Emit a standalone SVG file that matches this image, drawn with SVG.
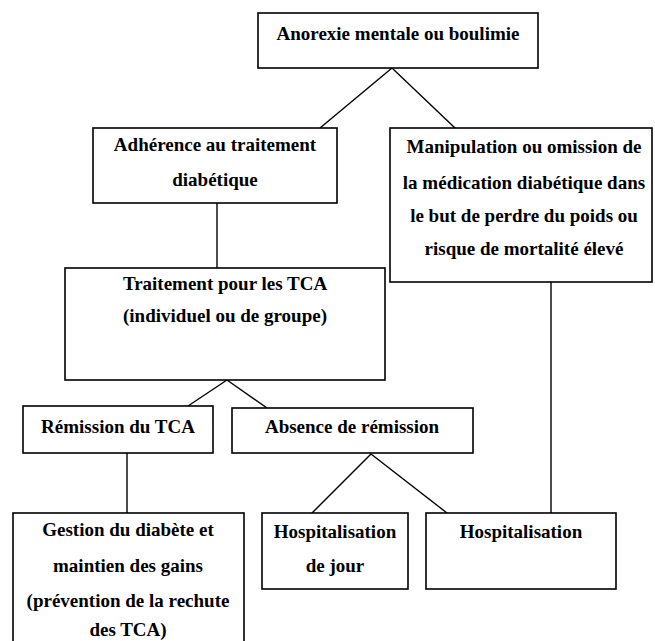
<svg xmlns="http://www.w3.org/2000/svg" width="655" height="641" viewBox="0 0 655 641">
<style>
.box{fill:#fff;stroke:#000;stroke-width:1.6}
.ln{stroke:#000;stroke-width:1.4;fill:none}
text{font-family:"Liberation Serif","Times New Roman",serif;font-size:19px;font-weight:bold;fill:#000;text-anchor:middle}
</style>
<rect width="655" height="641" fill="#fff"/>
<g id="connectors">
<line class="ln" x1="392" y1="68" x2="320" y2="128"/>
<line class="ln" x1="392" y1="68" x2="455" y2="128"/>
<line class="ln" x1="217" y1="203" x2="217" y2="268"/>
<line class="ln" x1="551" y1="282" x2="551" y2="513"/>
<line class="ln" x1="227" y1="380" x2="188" y2="406"/>
<line class="ln" x1="227" y1="380" x2="267" y2="408"/>
<line class="ln" x1="127" y1="453" x2="127" y2="513"/>
<line class="ln" x1="371" y1="454" x2="312" y2="513"/>
<line class="ln" x1="371" y1="454" x2="447" y2="513"/>
</g>
<g id="n-anorexie">
<rect class="box" x="258" y="13" width="280" height="55"/>
<text x="398" y="40">Anorexie mentale ou boulimie</text>
</g>
<g id="n-adherence">
<rect class="box" x="93" y="128" width="244" height="75"/>
<text x="215" y="151">Adhérence au traitement</text>
<text x="215" y="186">diabétique</text>
</g>
<g id="n-manipulation">
<rect class="box" x="390" y="128" width="262" height="154"/>
<text x="524" y="153">Manipulation ou omission de</text>
<text x="524" y="189">la médication diabétique dans</text>
<text x="524" y="222">le but de perdre du poids ou</text>
<text x="524" y="255">risque de mortalité élevé</text>
</g>
<g id="n-traitement">
<rect class="box" x="65" y="268" width="320" height="112"/>
<text x="225" y="290">Traitement pour les TCA</text>
<text x="225" y="322">(individuel ou de groupe)</text>
</g>
<g id="n-remission">
<rect class="box" x="23" y="406" width="190" height="47"/>
<text x="118" y="433">Rémission du TCA</text>
</g>
<g id="n-absence">
<rect class="box" x="232" y="408" width="241" height="45"/>
<text x="352" y="433">Absence de rémission</text>
</g>
<g id="n-gestion">
<rect class="box" x="13" y="513" width="231" height="140"/>
<text x="128" y="536">Gestion du diabète et</text>
<text x="128" y="572">maintien des gains</text>
<text x="128" y="607">(prévention de la rechute</text>
<text x="128" y="636">des TCA)</text>
</g>
<g id="n-hosp-jour">
<rect class="box" x="262" y="513" width="146" height="76"/>
<text x="335" y="538">Hospitalisation</text>
<text x="335" y="572">de jour</text>
</g>
<g id="n-hosp">
<rect class="box" x="426" y="513" width="190" height="76"/>
<text x="521" y="538">Hospitalisation</text>
</g>
</svg>
